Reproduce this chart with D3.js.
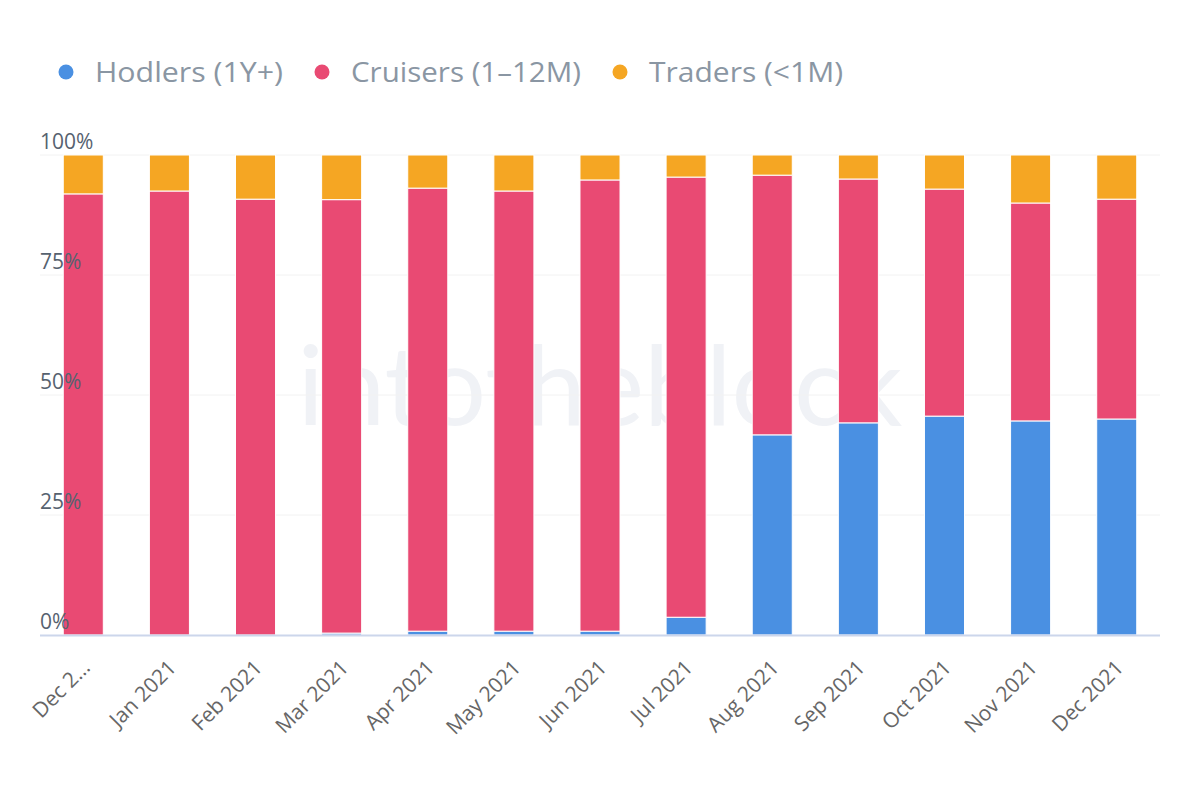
<!DOCTYPE html>
<html><head><meta charset="utf-8">
<script src="https://cdn.jsdelivr.net/npm/d3@7"></script>
<style>body{margin:0;background:#fff}svg{display:block}</style>
</head><body><svg id="c" width="1200" height="800"></svg>
<script>
const categories = ["Dec 2020","Jan 2021","Feb 2021","Mar 2021","Apr 2021","May 2021","Jun 2021","Jul 2021","Aug 2021","Sep 2021","Oct 2021","Nov 2021","Dec 2021"];
const categoryLabels = ["Dec 2…","Jan 2021","Feb 2021","Mar 2021","Apr 2021","May 2021","Jun 2021","Jul 2021","Aug 2021","Sep 2021","Oct 2021","Nov 2021","Dec 2021"];
const hodlers = [0, 0, 0, 0.4, 0.8, 0.8, 0.8, 3.7, 41.7, 44.2, 45.6, 44.6, 45.0];
const traders = [8.1, 7.5, 9.2, 9.3, 6.9, 7.5, 5.2, 4.6, 4.2, 5.0, 7.1, 10.0, 9.2];
const cruisers = hodlers.map((h,i) => +(100 - h - traders[i]).toFixed(1));
const seriesNames = ["Hodlers (1Y+)","Cruisers (1–12M)","Traders (<1M)"];
const seriesColors = ["#4a90e2","#e94a73","#f5a623"];
const yTicks = [0,25,50,75,100];

const svg = d3.select("#c");
const L = 40, R = 1160, T = 155, B = 635;
const x = d3.scaleBand().domain(categories).range([L,R]).paddingInner(0.535).paddingOuter(0.27);
const y = d3.scaleLinear().domain([0,100]).range([B,T]);

// watermark
svg.append("text").attr("x",600).attr("y",425).attr("text-anchor","middle")
  .attr("font-family","Lato, 'Open Sans', sans-serif").attr("font-size",110).attr("font-weight",400)
  .attr("fill","#f0f2f6").text("intotheblock");

// gridlines
svg.append("g").selectAll("line").data(yTicks.filter(d=>d>0)).join("line")
  .attr("x1",L).attr("x2",R).attr("y1",d=>y(d)).attr("y2",d=>y(d))
  .attr("stroke","#f2f2f2").attr("stroke-width",1);

// stacked bars
const rows = categories.map((c,i)=>({cat:c, h:hodlers[i], c2:cruisers[i], t:traders[i]}));
const stack = d3.stack().keys(["h","c2","t"])(rows);
svg.append("g").selectAll("g").data(stack).join("g")
  .attr("fill",(d,i)=>seriesColors[i])
  .selectAll("rect").data(d=>d).join("rect")
  .attr("x",d=>x(d.data.cat)).attr("width",x.bandwidth())
  .attr("y",d=>y(d[1])).attr("height",d=>Math.max(0,y(d[0])-y(d[1])))
  .attr("stroke","#fff").attr("stroke-width",1);

// y labels (drawn over bars)
svg.append("g").selectAll("text").data(yTicks).join("text")
  .attr("x",L).attr("y",d=>y(d)-6)
  .attr("font-family","'Open Sans', sans-serif").attr("font-size",21)
  .attr("fill","#56626f").text(d=>d+"%");

// x axis line
svg.append("line").attr("x1",L).attr("x2",R).attr("y1",B+0.5).attr("y2",B+0.5)
  .attr("stroke","#ccd6eb").attr("stroke-width",2);

// x labels
svg.append("g").selectAll("text").data(categories).join("text")
  .attr("transform",(d)=>`translate(${x(d)+x.bandwidth()/2+8},${B+34}) rotate(-45)`)
  .attr("text-anchor","end")
  .attr("font-family","'Open Sans', sans-serif").attr("font-size",21)
  .attr("fill","#666666").text((d,i)=>categoryLabels[i]);

// legend
const legX = [66, 322, 620];
const legW = [188, 230, 194];
const lg = svg.append("g").selectAll("g").data(seriesNames).join("g")
  .attr("transform",(d,i)=>`translate(${legX[i]},72)`);
lg.append("circle").attr("r",7.5).attr("fill",(d,i)=>seriesColors[i]);
lg.append("text").attr("x",29).attr("y",10)
  .attr("font-family","'Open Sans', sans-serif").attr("font-size",27)
  .attr("textLength",(d,i)=>legW[i]).attr("lengthAdjust","spacingAndGlyphs")
  .attr("fill","#8a96a3").text(d=>d);
</script></body></html>
